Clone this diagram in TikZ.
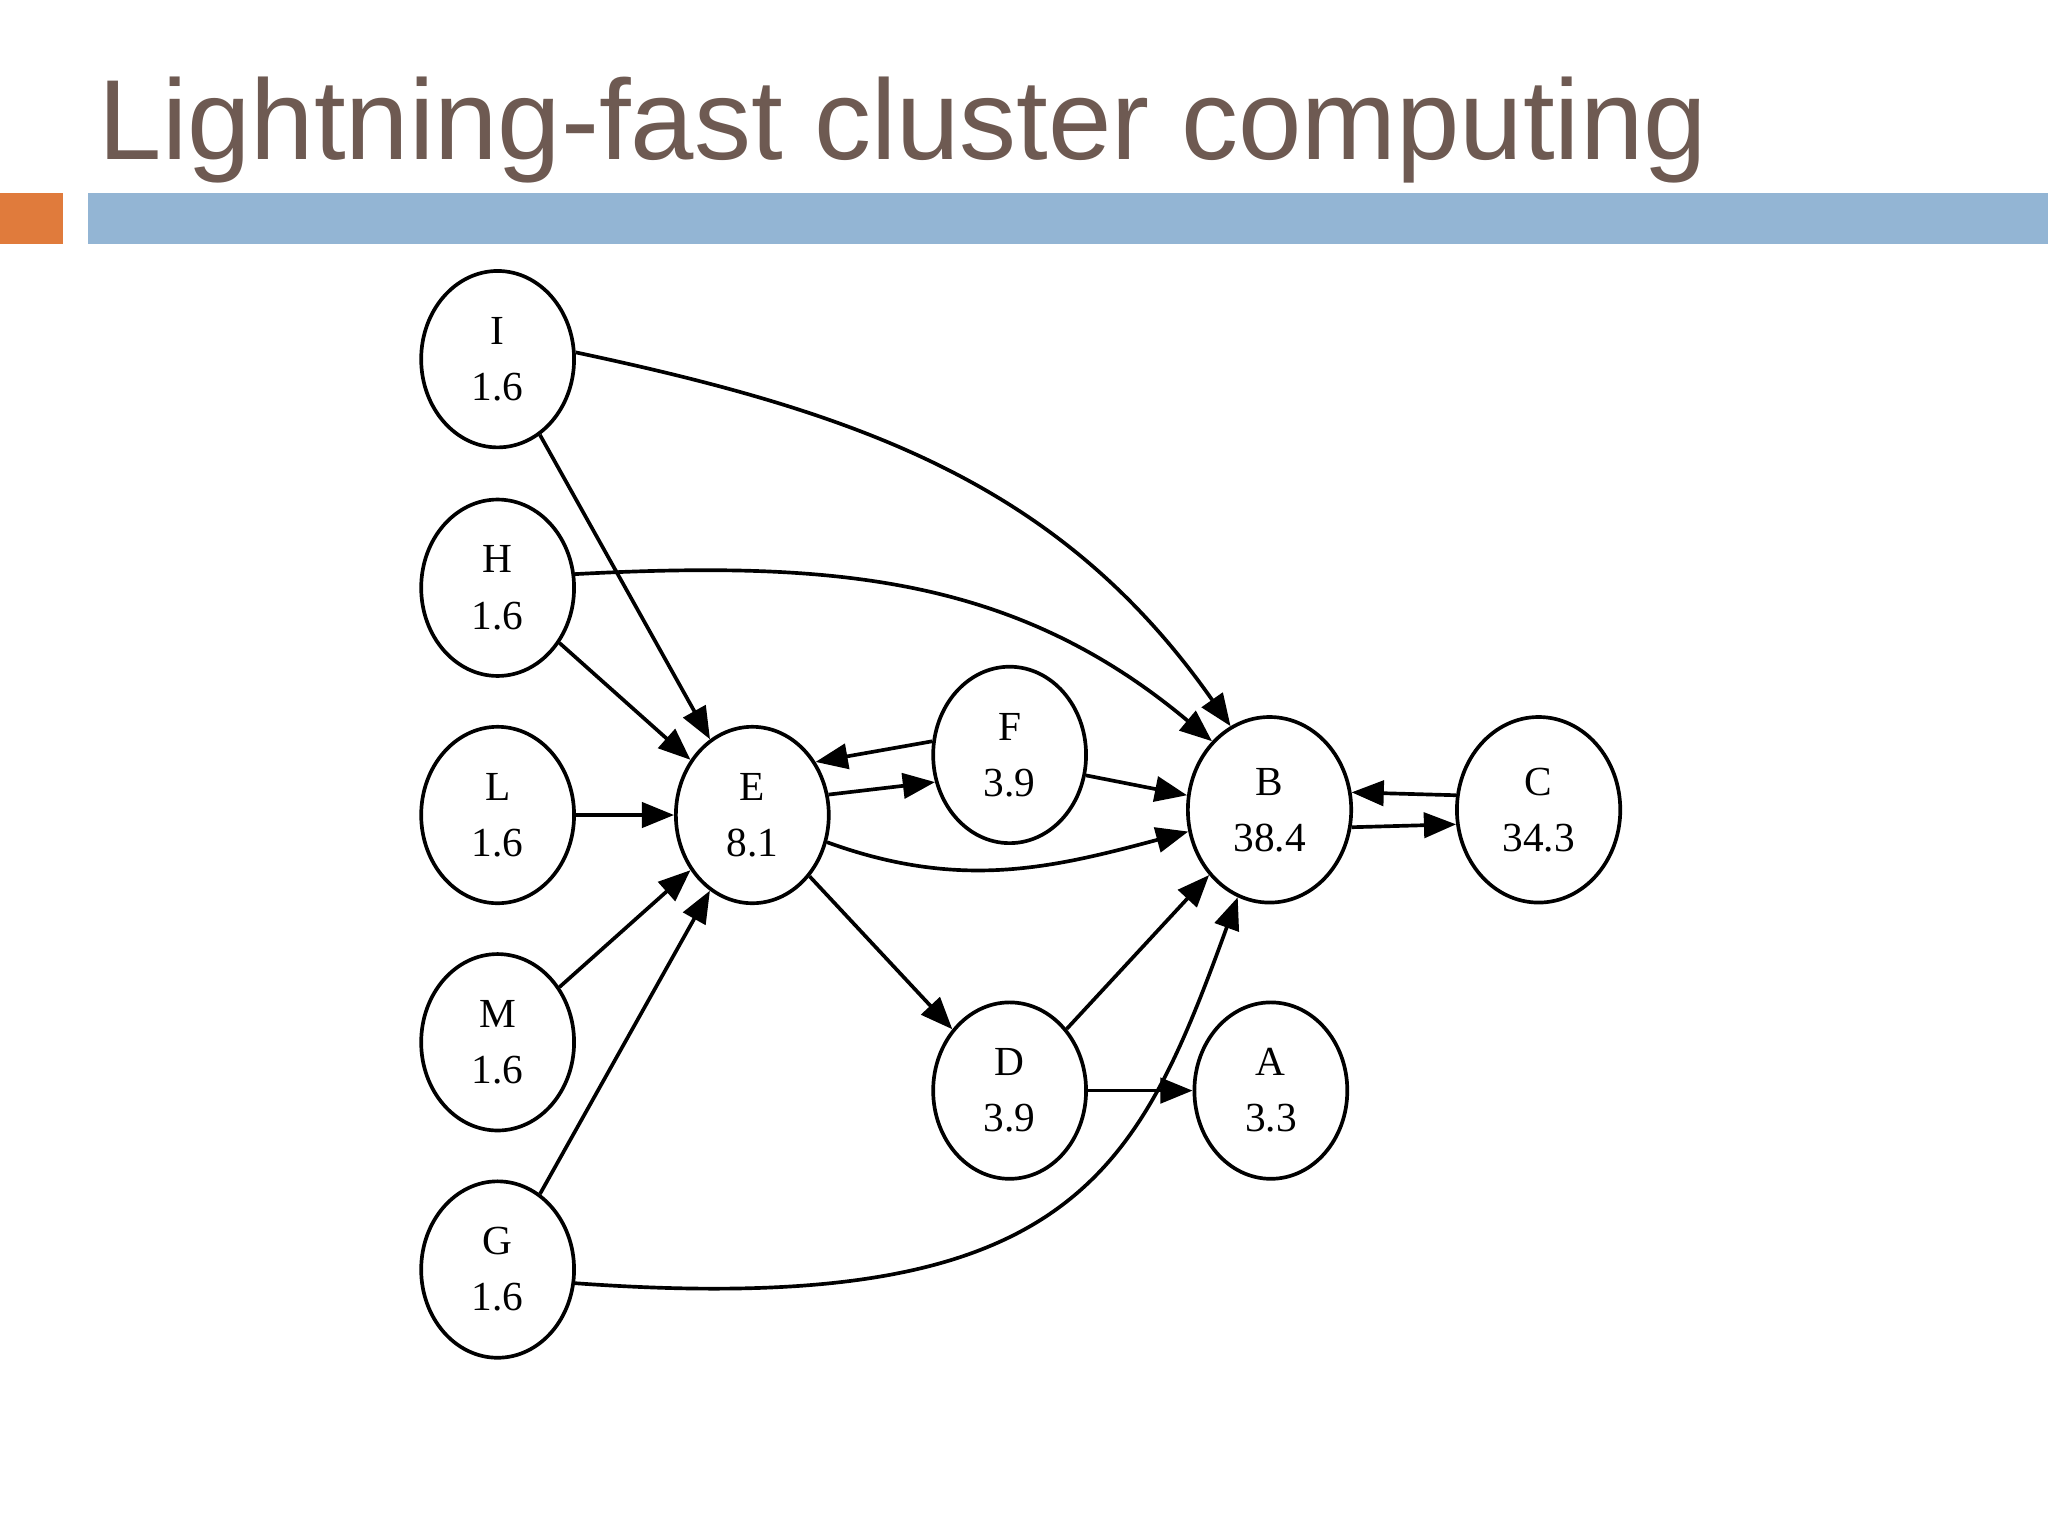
\documentclass[tikz,border=0pt]{standalone}
\usepackage{fontspec}
\setmainfont{Liberation Serif}
\newfontfamily\titlefont{Liberation Sans}
\usetikzlibrary{shapes.geometric, arrows.meta}
\definecolor{titlegray}{HTML}{6E5A52}
\definecolor{barblue}{HTML}{93B5D4}
\definecolor{barorange}{HTML}{E07B3C}
\begin{document}
\begin{tikzpicture}[x=0.01cm, y=-0.01cm]
  \tikzset{
    vert/.style={ellipse, draw, line width=0.8pt, minimum width=1.17cm, minimum height=1.35cm,
      align=center, font=\fontsize{9pt}{12.2pt}\selectfont, inner sep=0pt},
    big/.style={vert, minimum width=1.25cm, minimum height=1.42cm},
    edge/.style={-{Triangle[length=7pt,width=5.5pt]}, line width=0.8pt}
  }
  \useasboundingbox (0,0) rectangle (1568,1176);

  % Header
  \node[anchor=base west, inner sep=0pt, text=titlegray, font=\titlefont\fontsize{24.8pt}{30pt}\selectfont]
    (title) at (75,122) {Lightning-fast cluster computing};
  \fill[barorange] (0,148) rectangle (48,187);
  \fill[barblue] (67,148) rectangle (1568,187);

  % Vertices
  \node[vert] (I) at (381,275) {I\\1.6};
  \node[vert] (H) at (381,450) {H\\1.6};
  \node[vert] (L) at (381,624) {L\\1.6};
  \node[vert] (M) at (381,798) {M\\1.6};
  \node[vert] (G) at (381,972) {G\\1.6};
  \node[vert] (E) at (576,624) {E\\8.1};
  \node[vert] (F) at (773,578) {F\\3.9};
  \node[vert] (D) at (773,835) {D\\3.9};
  \node[big] (B) at (972,620) {B\\38.4};
  \node[big] (C) at (1178,620) {C\\34.3};
  \node[vert] (A) at (973,835) {A\\3.3};

  % Edges
  \draw[edge] (I) -- (E);
  \draw[edge] (H) -- (E);
  \draw[edge] (L) -- (E);
  \draw[edge] (M) -- (E);
  \draw[edge] (G) -- (E);
  \draw[edge] (I.5) to[out=-12, in=125] (B.115);
  \draw[edge] (H.10) to[out=3, in=140] (B.130);
  \draw[edge] (G.-10) .. controls (820,1010) and (870,900) .. (B.-110);
  \draw[edge] (E.-20) to[out=-20, in=195] (B.195);
  \draw[edge] (E.15) -- (F.200);
  \draw[edge] (F.170) -- (E.40);
  \draw[edge] (F.-15) -- (B.170);
  \draw[edge] (E) -- (D);
  \draw[edge] (D) -- (B);
  \draw[edge] (D) -- (A);
  \draw[edge] (C.170) -- (B.12);
  \draw[edge] (B.-12) -- (C.-170);
\end{tikzpicture}
\end{document}
